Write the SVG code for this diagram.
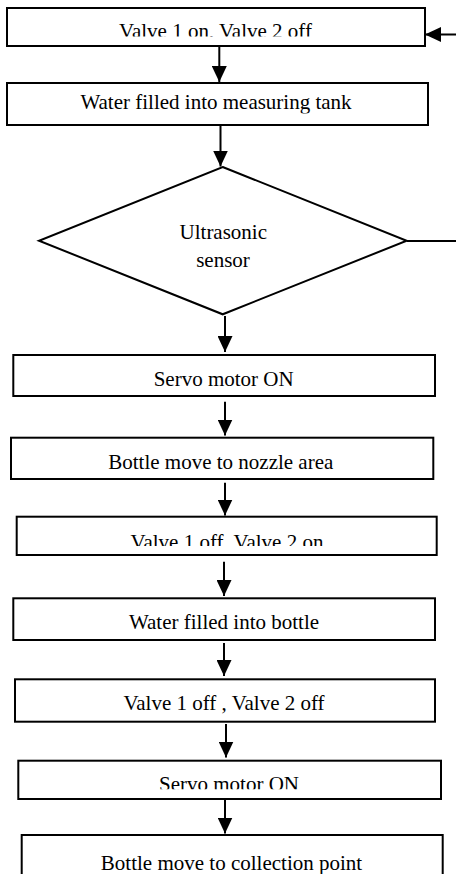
<svg xmlns="http://www.w3.org/2000/svg" width="456" height="874" viewBox="0 0 456 874">
<style>
.box{fill:#fff;stroke:#000;stroke-width:2}
.lbl{font-family:"Liberation Serif","Times New Roman",serif;font-size:21px;fill:#000;text-anchor:middle}
.con{fill:none;stroke:#000;stroke-width:2}
</style>
<defs>
<marker id="ah" viewBox="0 0 16 15" refX="16" refY="7.5" markerWidth="16" markerHeight="15" markerUnits="userSpaceOnUse" orient="auto">
<path d="M0,0 L16,7.5 L0,15 z" fill="#000"/>
</marker>
<clipPath id="c1"><rect x="0" y="0" width="456" height="36.5"/></clipPath>
<clipPath id="c2"><rect x="0" y="0" width="456" height="113.5"/></clipPath>
<clipPath id="c5"><rect x="0" y="520" width="456" height="26"/></clipPath>
<clipPath id="c8"><rect x="0" y="760" width="456" height="29.3"/></clipPath>
</defs>
<rect width="456" height="874" fill="#fff"/>
<g id="connectors">
<line class="con" x1="219.3" y1="46" x2="219.3" y2="82" marker-end="url(#ah)"/>
<line class="con" x1="220.5" y1="125" x2="220.5" y2="166.5" marker-end="url(#ah)"/>
<line class="con" x1="225" y1="316" x2="225" y2="352" marker-end="url(#ah)"/>
<line class="con" x1="225" y1="401.7" x2="225" y2="435.5" marker-end="url(#ah)"/>
<line class="con" x1="225" y1="482.7" x2="225" y2="515.5" marker-end="url(#ah)"/>
<line class="con" x1="224" y1="561.7" x2="224" y2="596" marker-end="url(#ah)"/>
<line class="con" x1="224" y1="643" x2="224" y2="676" marker-end="url(#ah)"/>
<line class="con" x1="226" y1="724" x2="226" y2="757.5" marker-end="url(#ah)"/>
<line class="con" x1="225" y1="800" x2="225" y2="833.5" marker-end="url(#ah)"/>
<polyline class="con" points="407,241 460,241 460,34.5 425,34.5" marker-end="url(#ah)"/>
</g>
<g id="n1">
<rect class="box" x="7" y="8" width="418" height="38"/>
<text class="lbl" x="215.5" y="38" clip-path="url(#c1)">Valve 1 on, Valve 2 off</text>
</g>
<g id="n2">
<rect class="box" x="7" y="83" width="421" height="42"/>
<text class="lbl" x="216" y="108.5" clip-path="url(#c2)">Water filled into measuring tank</text>
</g>
<g id="n3">
<polygon class="box" points="222.7,167 406.7,240.7 222.7,314.3 39,240.7"/>
<text class="lbl" x="223.3" y="239">Ultrasonic</text>
<text class="lbl" x="223" y="267.3">sensor</text>
</g>
<g id="n4">
<rect class="box" x="13.3" y="355" width="421.7" height="41"/>
<text class="lbl" x="223.7" y="386">Servo motor ON</text>
</g>
<g id="n5">
<rect class="box" x="11" y="437.7" width="422.3" height="41.3"/>
<text class="lbl" x="220.8" y="469">Bottle move to nozzle area</text>
</g>
<g id="n6">
<rect class="box" x="16.7" y="516.7" width="420" height="38.3"/>
<text class="lbl" x="227" y="549" clip-path="url(#c5)">Valve 1 off, Valve 2 on</text>
</g>
<g id="n7">
<rect class="box" x="13.3" y="598.3" width="421.7" height="41.7"/>
<text class="lbl" x="224" y="629">Water filled into bottle</text>
</g>
<g id="n8">
<rect class="box" x="15" y="679.3" width="420" height="42.4"/>
<text class="lbl" x="224" y="710">Valve 1 off , Valve 2 off</text>
</g>
<g id="n9">
<rect class="box" x="18.3" y="760.7" width="422.7" height="38.3"/>
<text class="lbl" x="229" y="791" clip-path="url(#c8)">Servo motor ON</text>
</g>
<g id="n10">
<rect class="box" x="21.7" y="835" width="421" height="60"/>
<text class="lbl" x="231.5" y="869.5">Bottle move to collection point</text>
</g>
</svg>
